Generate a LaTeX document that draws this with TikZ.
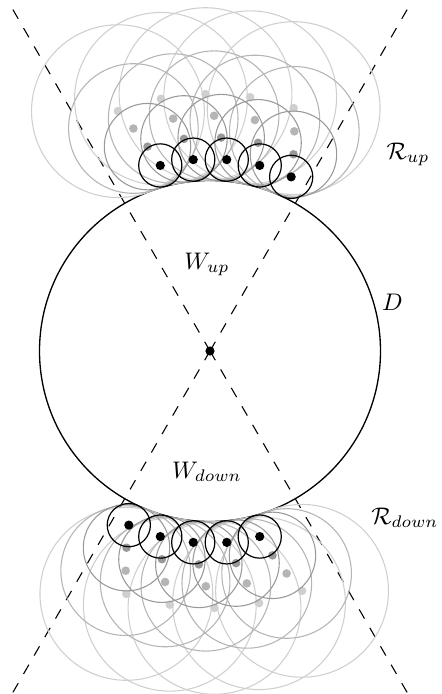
\documentclass[tikz,border=0pt]{standalone}
\begin{document}
\begin{tikzpicture}[x=0.4167pt,y=0.4167pt,
  ray/.style={line width=0.45pt, dash pattern=on 4.44pt off 4.44pt},
  bigcircle/.style={line width=0.55pt},
  layerring/.style={line width=0.45pt},
  blackring/.style={line width=0.5pt}]
\useasboundingbox (-210,-343) rectangle (231,351);
\coordinate (O) at (0,0);
% dashed rays from the centre
\foreach \a in {60,120,240,300} \draw[ray] (O) -- (\a:400);
% main disc D
\draw[bigcircle] (O) circle[radius=170.5];
\fill (O) circle[radius=4.6];
% grey layers, lightest first
\foreach \k/\col in {4/black!19, 3/black!29, 2/black!40}{
  \foreach \j in {0,...,4}{
    \pgfmathsetmacro\ang{65+2*(\k-1)+10*\j}
    \pgfmathsetmacro\angb{\ang+180}
    \pgfmathsetmacro\dd{170.5+21.6*\k}
    \pgfmathsetmacro\rr{21.6*\k}
    \draw[layerring,\col] (\ang:\dd) circle[radius=\rr];
    \draw[layerring,\col] (\angb:\dd) circle[radius=\rr];
  }
  \foreach \j in {0,...,4}{
    \pgfmathsetmacro\ang{65+2*(\k-1)+10*\j}
    \pgfmathsetmacro\angb{\ang+180}
    \pgfmathsetmacro\dd{170.5+21.6*\k}
    \fill[\col] (\ang:\dd) circle[radius=4.3];
    \fill[\col] (\angb:\dd) circle[radius=4.3];
  }
}
% black layer
\foreach \j in {0,...,4}{
  \pgfmathsetmacro\ang{65+10*\j}
  \pgfmathsetmacro\angb{\ang+180}
  \draw[blackring] (\ang:192.1) circle[radius=21.6];
  \draw[blackring] (\angb:192.1) circle[radius=21.6];
  \fill (\ang:192.1) circle[radius=4.6];
  \fill (\angb:192.1) circle[radius=4.6];
}
% labels
\node (Rup) at (198,196.5) {$\mathcal{R}_{up}$};
\node (Dlab) at (182.5,49) {$D$};
\node (Wup) at (-3,86.5) {$W_{up}$};
\node (Wdown) at (-3,-121) {$W_{down}$};
\node (Rdown) at (195,-167) {$\mathcal{R}_{down}$};
\end{tikzpicture}
\end{document}
